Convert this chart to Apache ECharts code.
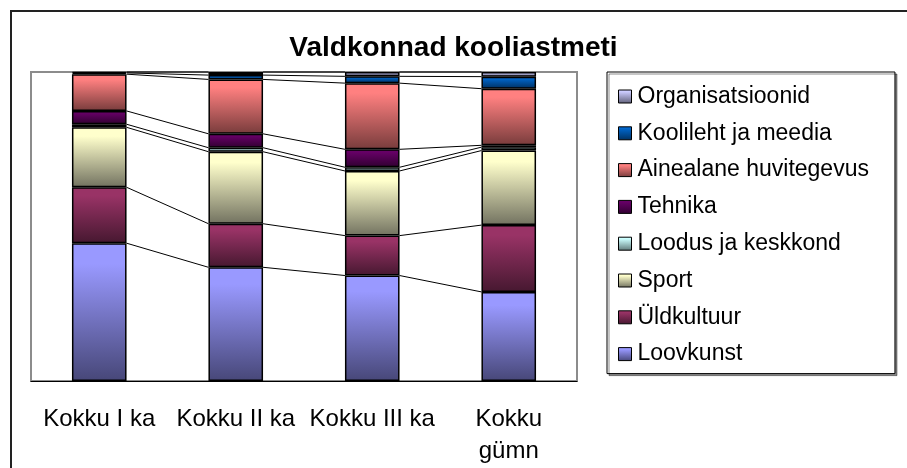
<!DOCTYPE html>
<html>
<head>
<meta charset="utf-8">
<script src="https://cdn.jsdelivr.net/npm/echarts@6/dist/echarts.min.js"></script>
<style>
html, body { margin: 0; padding: 0; background: #fff; }
#main { width: 907px; height: 468px; }
</style>
</head>
<body>
<div id="main"></div>
<script>
// categories and per-series shares (percent of each column)
var categories = ['Kokku I ka', 'Kokku II ka', 'Kokku III ka', 'Kokku\ngümn'];
var loovkunst = [44.6, 36.8, 34.1, 28.8];
var uldkultuur = [18.1, 14.1, 12.9, 21.6];
var sport = [19.4, 23.3, 20.9, 24.1];
var loodus = [1.0, 1.3, 1.2, 1.1];
var tehnika = [4.3, 4.5, 5.8, 0.6];
var ainealane = [11.9, 17.6, 21.4, 18.3];
var koolileht = [0.4, 1.4, 2.2, 3.9];
var organisatsioonid = [0.3, 1.0, 1.4, 1.5];

var seriesNames = ['Loovkunst', 'Üldkultuur', 'Sport', 'Loodus ja keskkond', 'Tehnika',
    'Ainealane huvitegevus', 'Koolileht ja meedia', 'Organisatsioonid'];

var font = 'Liberation Sans, Arial, sans-serif';

e100();

function e100() {
    var myChart = echarts.init(document.getElementById('main'));

    var raw = [loovkunst, uldkultuur, sport, loodus, tehnika, ainealane, koolileht, organisatsioonid];
    // [top colour, bottom colour] for the gradient fill
    var colors = [
        ['#9999FF', '#474778'],
        ['#993366', '#461830'],
        ['#FFFFCC', '#727260'],
        ['#CCFFFF', '#5F7878'],
        ['#660066', '#300030'],
        ['#FF8080', '#783C3C'],
        ['#0066CC', '#003060'],
        ['#CCCCFF', '#606078']
    ];

    // 100% stacked: normalise each column
    var totals = categories.map(function (c, i) {
        var t = 0;
        raw.forEach(function (s) { t += s[i]; });
        return t;
    });
    var pct = raw.map(function (s) {
        return s.map(function (v, i) { return v / totals[i] * 100; });
    });

    function grad(c) {
        return new echarts.graphic.LinearGradient(0, 0, 0, 1, [
            { offset: 0, color: c[0] },
            { offset: 0.15, color: c[0] },
            { offset: 1, color: c[1] }
        ]);
    }

    var series = pct.map(function (d, k) {
        return {
            name: seriesNames[k],
            type: 'bar',
            stack: 'total',
            barWidth: '40%',
            data: d,
            itemStyle: {
                color: grad(colors[k]),
                borderColor: '#000',
                borderWidth: 1.5
            }
        };
    });

    // series lines between neighbouring columns
    series.push({
        type: 'custom',
        silent: true,
        z: 1,
        data: [[0, 0], [1, 0], [2, 0]],
        encode: { x: 0, y: 1 },
        renderItem: function (params, api) {
            var i = api.value(0);
            var bw = api.size([1, 0])[0] * 0.4;
            var children = [];
            var a = 0, b = 0;
            for (var k = 0; k < pct.length; k++) {
                a += pct[k][i];
                b += pct[k][i + 1];
                var p1 = api.coord([i, a]);
                var p2 = api.coord([i + 1, b]);
                children.push({
                    type: 'line',
                    shape: { x1: p1[0] + bw / 2, y1: p1[1], x2: p2[0] - bw / 2, y2: p2[1] },
                    style: { stroke: '#000', lineWidth: 1 }
                });
            }
            return { type: 'group', children: children };
        }
    });

    option = {
        animation: false,
        backgroundColor: '#fff',
        title: {
            text: 'Valdkonnad kooliastmeti',
            left: 'center',
            top: 29,
            textStyle: {
                color: '#000',
                fontSize: 28,
                fontWeight: 'bold',
                fontFamily: font
            }
        },
        legend: {
            orient: 'vertical',
            left: 607,
            top: 72,
            padding: [13, 26, 8, 11],
            itemWidth: 13,
            itemHeight: 13,
            itemGap: 13.8,
            icon: 'rect',
            data: seriesNames.slice().reverse(),
            borderColor: '#000',
            borderWidth: 1,
            backgroundColor: '#fff',
            shadowColor: 'rgba(0,0,0,0.45)',
            shadowOffsetX: 2,
            shadowOffsetY: 2,
            itemStyle: { borderColor: '#000', borderWidth: 1 },
            textStyle: {
                color: '#000',
                fontSize: 23,
                fontFamily: font,
                padding: [0, 0, 0, 1]
            }
        },
        grid: {
            left: 31,
            top: 72,
            width: 546,
            height: 309,
            show: true,
            borderColor: '#8c8c8c',
            borderWidth: 2,
            backgroundColor: '#fff'
        },
        xAxis: {
            type: 'category',
            data: categories,
            axisLine: { lineStyle: { color: '#000', width: 1 } },
            axisTick: { length: 5, lineStyle: { color: '#000' } },
            axisLabel: {
                color: '#000',
                fontSize: 24,
                fontFamily: font,
                margin: 22,
                lineHeight: 32,
                interval: 0
            }
        },
        yAxis: {
            type: 'value',
            min: 0,
            max: 100,
            show: false
        },
        graphic: [{
            type: 'rect',
            shape: { x: 11, y: 11, width: 1000, height: 1000 },
            style: { fill: null, stroke: '#222', lineWidth: 2 },
            silent: true
        }],
        series: series
    };

    myChart.setOption(option);
    window.addEventListener("resize", function () {
        myChart.resize();
    });
}
</script>
</body>
</html>
